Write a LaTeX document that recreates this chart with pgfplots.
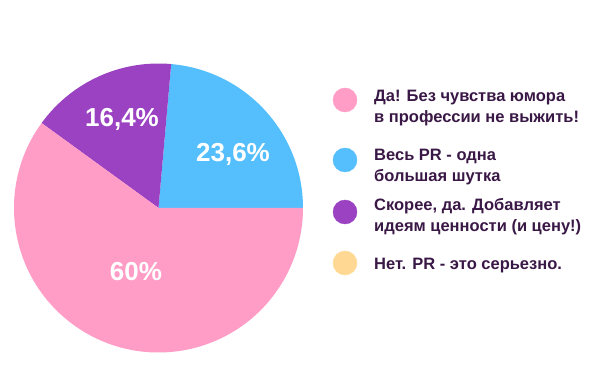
\documentclass[border=0pt]{standalone}
\usepackage{pgfplots}
\pgfplotsset{compat=1.18}
\usepackage{fontspec}
\setmainfont{Liberation Sans}
\definecolor{cpink}{HTML}{FF9DC6}
\definecolor{cblue}{HTML}{55BFFD}
\definecolor{cpurple}{HTML}{9B42C2}
\definecolor{cyellow}{HTML}{FFD993}
\definecolor{ctext}{HTML}{3A1846}
\begin{document}
\begin{tikzpicture}
\begin{axis}[
  scale only axis, width=600pt, height=391pt,
  xmin=0, xmax=600, ymin=0, ymax=391,
  hide axis, clip=false, at={(0,0)}, anchor=south west,
]
% pie values (percent), counterclockwise from 0 degrees
\def\vBlue{23.6}
\def\vPurple{16.4}
\def\vPink{60}
\def\vYellow{0}
\pgfmathsetmacro{\aA}{3.6*\vBlue}
\pgfmathsetmacro{\aB}{\aA+3.6*\vPurple}
\pgfmathsetmacro{\aC}{\aB+3.6*\vPink}
\fill[cblue] (axis cs:158.5,183) -- ++(0:144.5pt) arc[start angle=0, end angle=\aA, radius=144.5pt] -- cycle;
\fill[cpurple] (axis cs:158.5,183) -- ++(\aA:144.5pt) arc[start angle=\aA, end angle=\aB, radius=144.5pt] -- cycle;
\fill[cpink] (axis cs:158.5,183) -- ++(\aB:144.5pt) arc[start angle=\aB, end angle=\aC, radius=144.5pt] -- cycle;
% legend markers
\addplot[only marks, mark=*, mark size=12pt, color=cpink, mark options={draw=cpink, fill=cpink}] coordinates {(345,291)};
\addplot[only marks, mark=*, mark size=12pt, color=cblue, mark options={draw=cblue, fill=cblue}] coordinates {(345,231)};
\addplot[only marks, mark=*, mark size=12pt, color=cpurple, mark options={draw=cpurple, fill=cpurple}] coordinates {(345,179)};
\addplot[only marks, mark=*, mark size=12pt, color=cyellow, mark options={draw=cyellow, fill=cyellow}] coordinates {(345,128)};
% legend text
\tikzset{lt/.style={anchor=base west, text=ctext, font=\fontsize{16.5}{20}\selectfont\bfseries, inner sep=0pt}}
\node[lt] at (axis cs:374,289) {Да! Без чувства юмора};
\node[lt] at (axis cs:374,268) {в профессии не выжить!};
\node[lt] at (axis cs:374,230) {Весь PR - одна};
\node[lt] at (axis cs:374,209) {большая шутка};
\node[lt] at (axis cs:374,180) {Скорее, да. Добавляет};
\node[lt] at (axis cs:374,159) {идеям ценности (и цену!)};
\node[lt] at (axis cs:374,121) {Нет. PR - это серьезно.};
% slice labels
\tikzset{pl/.style={anchor=base, text=white, font=\fontsize{26}{30}\selectfont\bfseries, inner sep=0pt}}
\node[pl] at (axis cs:122,264) {16,4\%};
\node[pl] at (axis cs:233,229) {23,6\%};
\node[pl] at (axis cs:136,110) {60\%};
\end{axis}
\pgfresetboundingbox
\path[use as bounding box] (0,0) rectangle (600pt,391pt);
\end{tikzpicture}
\end{document}
